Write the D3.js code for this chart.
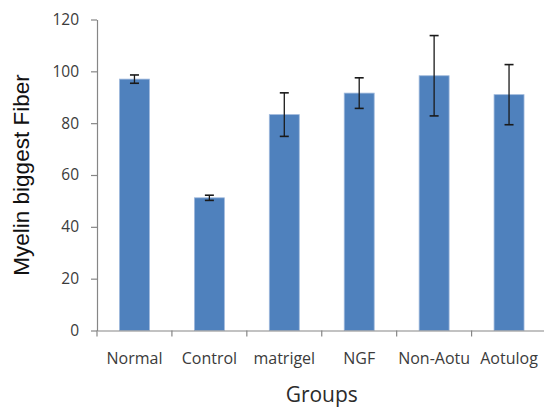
<!DOCTYPE html>
<html>
<head>
<meta charset="utf-8">
<script src="https://cdn.jsdelivr.net/npm/d3@7"></script>
<style>
  html, body { margin: 0; padding: 0; background: #fff; }
  svg { display: block; }
</style>
</head>
<body>
<svg id="chart" width="544" height="409"></svg>
<script>
const categories = ["Normal", "Control", "matrigel", "NGF", "Non-Aotu", "Aotulog"];
const means = [97.0, 51.2, 83.3, 91.6, 98.3, 91.0];
const errors = [1.6, 1.0, 8.4, 5.9, 15.5, 11.6];
const yTicks = [0, 20, 40, 60, 80, 100, 120];
const yTitle = "Myelin biggest Fiber";
const xTitle = "Groups";

(function () {
const svg = d3.select("#chart");
const mLeft = 97, mRight = 546.5, mTop = 19.5, mBottom = 330.5;

const x = d3.scaleBand().domain(categories).range([mLeft, mRight])
  .paddingInner(0.6).paddingOuter(0.3);
const y = d3.scaleLinear().domain([0, 120]).range([mBottom, mTop]);
const step = x.step();

const axisColor = "#868686";
const labelColor = "#3b3b3b";
const font = "'Open Sans', sans-serif";

// Bars
svg.append("g").selectAll("rect").data(categories).join("rect")
  .attr("x", d => x(d))
  .attr("y", (d, i) => y(means[i]))
  .attr("width", x.bandwidth())
  .attr("height", (d, i) => y(0) - y(means[i]))
  .attr("fill", "#4f81bd")
  .attr("stroke", "#9fb9dc")
  .attr("stroke-width", 0.8);

// Error bars
const eg = svg.append("g").attr("stroke", "#1a1a1a").attr("stroke-width", 1.3);
categories.forEach((c, i) => {
  const cx = x(c) + x.bandwidth() / 2;
  const hi = y(means[i] + errors[i]), lo = y(means[i] - errors[i]);
  eg.append("line").attr("x1", cx).attr("x2", cx).attr("y1", hi).attr("y2", lo);
  eg.append("line").attr("x1", cx - 4.5).attr("x2", cx + 4.5).attr("y1", hi).attr("y2", hi).attr("stroke-width", 1.6);
  eg.append("line").attr("x1", cx - 4.5).attr("x2", cx + 4.5).attr("y1", lo).attr("y2", lo).attr("stroke-width", 1.6);
});

// Y axis
const yAxis = svg.append("g").attr("transform", `translate(${mLeft},0)`)
  .call(d3.axisLeft(y).tickValues(yTicks).tickSize(6).tickPadding(12).tickSizeOuter(0));
yAxis.select(".domain").attr("stroke", axisColor).attr("stroke-width", 1.2);
yAxis.selectAll(".tick line").attr("stroke", axisColor).attr("stroke-width", 1.2);
yAxis.selectAll("text").attr("fill", labelColor).style("font-family", font).style("font-size", "15.5px");

// X axis (labels)
const xAxis = svg.append("g").attr("transform", `translate(0,${mBottom})`)
  .call(d3.axisBottom(x).tickSize(0).tickPadding(22).tickSizeOuter(0));
xAxis.select(".domain").attr("stroke", axisColor).attr("stroke-width", 1.2);
xAxis.selectAll("text").attr("fill", labelColor).style("font-family", font).style("font-size", "16px");

// X boundary ticks
svg.append("g").selectAll("line").data(d3.range(categories.length + 1)).join("line")
  .attr("x1", i => mLeft + i * step).attr("x2", i => mLeft + i * step)
  .attr("y1", mBottom).attr("y2", mBottom + 6)
  .attr("stroke", axisColor).attr("stroke-width", 1.2);

// Titles
svg.append("text")
  .attr("transform", `translate(28.5,175) rotate(-90)`)
  .attr("text-anchor", "middle")
  .style("font-family", "'Liberation Sans', Arial, sans-serif")
  .style("font-size", "22.5px")
  .attr("fill", "#111")
  .text(yTitle);

svg.append("text")
  .attr("x", (mLeft + mRight) / 2).attr("y", 402)
  .attr("text-anchor", "middle")
  .style("font-family", font)
  .style("font-size", "21px")
  .attr("fill", "#2b2b2b")
  .text(xTitle);
})();
</script>
</body>
</html>
